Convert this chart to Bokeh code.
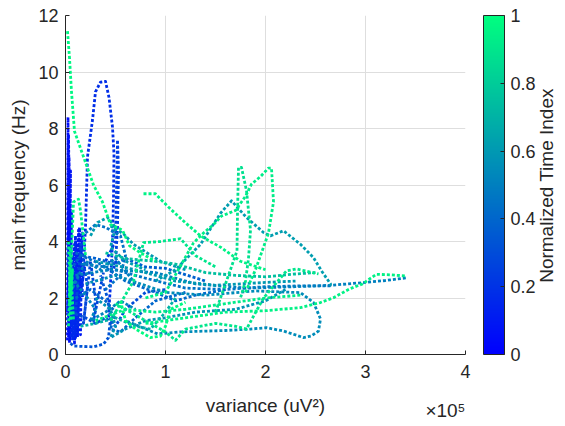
import math
from bokeh.plotting import figure
from bokeh.models import (Range1d, FixedTicker, ColorBar, LinearColorMapper, Label,
                          CustomJSTickFormatter)
from bokeh.embed import file_html
from bokeh.resources import INLINE

# ---------------- data (variance in units of 1e5 uV^2, main frequency in Hz) -------------
traj_x = [
    [0.02, 0.025, 0.03, 0.035, 0.04, 0.03, 0.05, 0.04, 0.02, 0.03],
    [0.03, 0.04, 0.05, 0.035, 0.06, 0.045, 0.03, 0.05],
    [0.05, 0.08, 0.10, 0.12, 0.13, 0.15, 0.16, 0.10, 0.07, 0.09, 0.14, 0.17],
    [0.08, 0.10, 0.12, 0.14, 0.10, 0.17, 0.12, 0.20],
    [0.04, 0.06, 0.09, 0.07, 0.11, 0.06, 0.13, 0.09, 0.05],
    [0.12, 0.17, 0.20, 0.22, 0.27, 0.30, 0.35, 0.40, 0.435, 0.47, 0.485, 0.48, 0.47, 0.45, 0.43],
    [0.40, 0.50, 0.52, 0.53, 0.52, 0.50, 0.45],
    [0.10, 0.15, 0.22, 0.18, 0.25, 0.30, 0.28, 0.38],
    [0.05, 0.08, 0.28, 0.38, 0.43, 0.45, 0.42, 0.35],
    [0.05, 0.2, 0.3, 0.4, 0.5, 0.6, 0.8, 1.0],
    [0.05, 0.15, 0.3, 0.5, 0.6, 0.8, 1.0, 1.4],
    [0.1, 0.25, 0.4, 0.5, 0.45, 0.55, 0.7, 0.9, 1.2],
    [0.1, 0.35, 0.6, 0.9, 1.1, 1.3, 1.6],
    [0.15, 0.4, 0.8, 1.2, 1.6, 2.0, 2.35, 2.65],
    [0.2, 0.3, 0.4, 0.55, 0.6, 0.55, 0.4],
    [0.1, 0.45, 0.9, 1.3, 1.8, 2.3, 2.65, 3.0, 3.2, 3.42],
    [0.05, 0.2, 0.35, 0.5, 0.7],
    [0.08, 0.2, 0.3, 0.25, 0.4, 0.55, 0.7],
    [0.2, 0.5, 1.0, 1.4, 1.9, 2.35, 2.48, 2.55, 2.53, 2.46, 2.38, 2.18, 2.01, 1.85, 1.6, 1.15, 0.92, 0.6],
    [0.3, 0.45, 0.5, 0.45, 0.6, 0.8, 1.0, 1.3, 1.7, 2.0, 2.2],
    [0.3, 0.7, 1.1, 1.5, 2.0, 2.3],
    [0.25, 0.32, 0.42, 0.5, 0.45, 0.6, 0.8],
    [0.45, 0.58, 0.68, 0.95, 1.2],
    [0.9, 1.1, 1.35, 1.55, 1.66, 1.81, 1.98, 2.05, 2.18, 2.35, 2.48, 2.56, 2.65, 2.65],
    [0.15, 0.3, 0.5, 0.7, 0.85, 1.0, 1.1],
    [0.4, 0.6, 0.9, 1.1, 1.4, 1.7, 2.0, 2.3, 2.5],
    [0.3, 0.6, 0.9, 1.2, 1.6, 2.0, 2.35],
    [1.5, 1.6, 1.715, 1.72, 1.73, 1.76, 1.81, 1.85, 1.83, 1.8, 1.75],
    [0.45, 0.68, 0.78, 0.95, 1.15, 1.3, 1.5],
    [0.5, 0.8, 1.0, 1.1, 1.2, 1.5, 1.7, 1.81, 1.98, 2.21, 2.31, 2.53],
    [0.03, 0.05, 0.04, 0.06, 0.08],
    [0.8, 1.0, 1.28, 1.38, 1.48, 1.56, 1.7, 1.8, 1.86, 1.95, 2.03, 2.06, 2.08, 2.03, 1.98, 1.9, 1.85, 1.8],
    [0.55, 0.6, 0.7, 0.85, 0.95, 1.0, 1.05, 1.2],
    [0.78, 0.9, 0.95, 1.05, 1.2, 1.35, 1.55, 1.75, 2.0],
    [0.8, 1.2, 1.6, 2.0, 2.35, 2.55, 2.68, 2.84, 2.97, 3.06, 3.11, 3.25, 3.41],
    [0.03, 0.05, 0.07, 0.04, 0.08, 0.13, 0.15, 0.2],
    [0.02, 0.04, 0.06, 0.09, 0.18, 0.28, 0.37, 0.45, 0.57, 0.64, 0.75, 0.9],
]
traj_y = [
    [0.5, 8.4, 0.6, 7.0, 1.0, 5.5, 0.8, 4.5, 1.5, 3.0],
    [3.0, 0.4, 6.5, 0.7, 5.0, 0.5, 7.8, 2.0],
    [4.2, 0.5, 4.0, 0.6, 4.4, 0.7, 3.8, 0.9, 3.5, 0.4, 4.5, 2.0],
    [1.2, 4.2, 0.7, 3.2, 0.6, 4.3, 1.5, 3.3],
    [2.5, 0.6, 3.9, 0.5, 3.6, 1.0, 2.8, 0.7, 2.2],
    [1.0, 2.5, 4.5, 7.0, 8.3, 9.3, 9.64, 9.67, 9.1, 8.05, 7.1, 5.5, 4.0, 2.5, 1.3],
    [3.3, 4.0, 7.6, 6.5, 4.5, 3.2, 2.8],
    [1.4, 3.9, 2.4, 1.1, 3.3, 2.0, 1.2, 2.9],
    [0.4, 0.3, 0.27, 0.37, 0.6, 1.3, 2.0, 2.8],
    [1.5, 1.3, 1.1, 1.3, 1.0, 1.6, 2.2, 2.3],
    [3.0, 3.5, 3.4, 3.2, 3.4, 3.1, 3.05, 2.6],
    [2.0, 2.3, 1.9, 1.5, 0.9, 0.8, 1.3, 1.9, 2.2],
    [3.6, 3.2, 2.6, 2.2, 1.9, 2.1, 2.3],
    [3.2, 3.1, 2.7, 2.35, 2.3, 2.4, 2.43, 2.43],
    [4.3, 4.6, 4.5, 4.2, 3.5, 2.8, 2.3],
    [2.8, 3.0, 2.9, 2.5, 2.35, 2.4, 2.45, 2.55, 2.62, 2.72],
    [2.2, 3.3, 3.0, 3.4, 2.5],
    [2.6, 2.1, 1.6, 1.2, 1.5, 1.9, 1.6],
    [2.5, 2.8, 2.2, 2.1, 2.25, 2.19, 1.84, 1.26, 0.83, 0.66, 0.6, 0.83, 0.95, 0.9, 0.85, 0.8, 0.73, 1.2],
    [2.0, 1.6, 1.0, 0.6, 0.9, 1.2, 1.3, 1.5, 1.6, 1.9, 2.3],
    [3.3, 3.0, 2.6, 2.45, 2.55, 2.6],
    [4.2, 4.67, 4.85, 4.5, 3.8, 3.3, 3.0],
    [4.55, 4.27, 3.9, 3.3, 3.0],
    [2.6, 3.0, 3.9, 5.0, 5.44, 4.85, 4.32, 4.2, 4.38, 3.9, 3.43, 2.96, 2.5, 2.43],
    [1.0, 1.1, 1.3, 1.0, 0.9, 1.5, 2.0],
    [3.6, 3.4, 3.3, 3.2, 2.9, 2.8, 2.75, 2.85, 2.9],
    [1.2, 1.6, 1.5, 1.6, 1.8, 2.0, 2.1],
    [1.5, 2.5, 3.67, 5.0, 6.62, 6.62, 5.8, 4.4, 3.4, 2.6, 2.0],
    [1.2, 2.6, 3.96, 4.0, 4.1, 3.5, 3.1],
    [1.8, 1.2, 0.8, 0.5, 0.9, 1.1, 1.0, 0.9, 2.0, 2.96, 3.03, 2.85],
    [1.0, 3.8, 1.6, 2.6, 1.2],
    [2.0, 2.2, 3.95, 4.3, 4.6, 4.9, 5.1, 5.6, 6.03, 6.3, 6.6, 6.6, 5.4, 4.3, 3.8, 3.0, 2.6, 2.2],
    [1.9, 1.2, 0.9, 0.6, 0.65, 1.0, 1.6, 1.85],
    [5.69, 5.69, 5.5, 5.15, 4.66, 4.2, 3.8, 3.3, 3.0],
    [1.1, 1.3, 1.5, 1.55, 1.66, 1.84, 2.01, 2.32, 2.5, 2.72, 2.84, 2.82, 2.78],
    [4.0, 1.2, 3.0, 1.8, 5.4, 5.5, 5.1, 3.5],
    [11.45, 10.5, 9.3, 7.9, 7.0, 6.0, 5.4, 4.6, 4.4, 3.85, 3.6, 3.3],
]
traj_t = [0.05, 0.07, 0.10, 0.14, 0.16, 0.18, 0.24, 0.28, 0.33, 0.30, 0.38, 0.40, 0.42,
          0.45, 0.45, 0.50, 0.50, 0.52, 0.55, 0.58, 0.60, 0.62, 0.60, 0.62, 0.70, 0.75,
          0.92, 0.88, 0.90, 0.90, 0.90, 0.93, 0.98, 0.95, 0.95, 0.95, 0.97]

x_ticks = [0, 1, 2, 3, 4]
y_ticks = [0, 2, 4, 6, 8, 10, 12]
cb_ticks = [0, 0.2, 0.4, 0.6, 0.8, 1]


def winter(t):
    return "#%02x%02x%02x" % (0, int(round(255 * t)), int(round(255 * (1 - 0.5 * t))))


palette = [winter(i / 255) for i in range(256)]

FONT = "Liberation Sans"
TXT = "#262626"

p = figure(width=565, height=426, output_backend="svg", toolbar_location=None,
           x_range=Range1d(0, 4), y_range=Range1d(0, 12),
           min_border_left=65, min_border_right=100, min_border_top=15, min_border_bottom=72)
p.outline_line_color = None
p.background_fill_color = "white"
p.border_fill_color = "white"

order = sorted(range(len(traj_t)), key=lambda i: traj_t[i])
p.multi_line(xs=[traj_x[i] for i in order], ys=[traj_y[i] for i in order],
             line_color=[winter(traj_t[i]) for i in order],
             line_width=2.8, line_dash="3 2", line_cap="butt", line_join="round")

for ax in (p.xaxis, p.yaxis):
    ax.major_tick_in = 4
    ax.major_tick_out = 0
    ax.minor_tick_line_color = None
    ax.axis_line_color = TXT
    ax.major_tick_line_color = TXT
    ax.major_label_text_font = FONT
    ax.major_label_text_font_size = "18px"
    ax.major_label_text_color = TXT
    ax.axis_label_text_font = FONT
    ax.axis_label_text_font_size = "19px"
    ax.axis_label_text_color = TXT
    ax.axis_label_text_font_style = "normal"
p.xaxis.ticker = FixedTicker(ticks=x_ticks)
p.yaxis.ticker = FixedTicker(ticks=y_ticks)
p.yaxis.axis_label = "main frequency (Hz)"
p.xaxis.major_label_standoff = 10
p.yaxis.major_label_standoff = 7
p.yaxis.axis_label_standoff = 6

p.xgrid.ticker = FixedTicker(ticks=x_ticks)
p.ygrid.ticker = FixedTicker(ticks=y_ticks)
for g in (p.xgrid, p.ygrid):
    g.grid_line_color = "#dedede"
    g.grid_line_width = 1

mapper = LinearColorMapper(palette=palette, low=0, high=1)
cb = ColorBar(color_mapper=mapper, width=21, padding=0, margin=0,
              location=(18, 0), ticker=FixedTicker(ticks=cb_ticks),
              formatter=CustomJSTickFormatter(code="return String(Math.round(tick*10)/10)"),
              major_label_text_font=FONT, major_label_text_font_size="18px",
              major_label_text_color=TXT, major_tick_line_color=TXT,
              major_tick_in=4, major_tick_out=0, bar_line_color=TXT,
              border_line_color=None, background_fill_color=None, label_standoff=6)
p.add_layout(cb, "right")

# colour-bar title, right of the colour bar
p.add_layout(Label(x=8, y=169, x_units="screen", y_units="screen", angle=math.pi / 2,
                   text="Normalized Time Index", text_font=FONT, text_font_size="19px",
                   text_color=TXT, text_align="center", text_baseline="middle"), "right")
# x-axis title and exponent, both on one row below the tick labels
p.add_layout(Label(x=200, y=-4, x_units="screen", y_units="screen", text="variance (uV²)",
                   text_font=FONT, text_font_size="19px", text_color=TXT,
                   text_align="center", text_baseline="middle"), "below")
p.add_layout(Label(x=400, y=12, x_units="screen", y_units="screen", text="×10⁵",
                   text_font=FONT, text_font_size="19px", text_color=TXT,
                   text_align="right", text_baseline="middle"), "below")

open("out.html", "w").write(file_html(p, INLINE))
